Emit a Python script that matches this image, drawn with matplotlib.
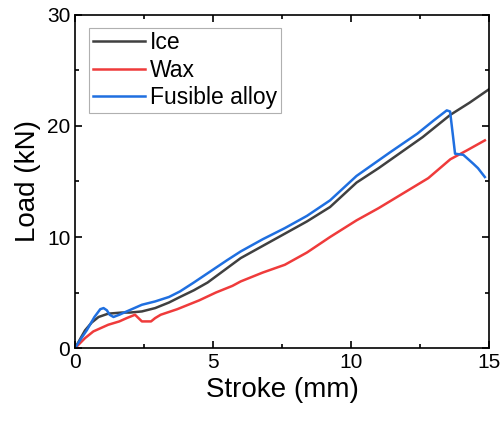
import matplotlib
matplotlib.use("Agg")
import matplotlib.pyplot as plt
from matplotlib.ticker import MultipleLocator

plt.rcParams['font.family'] = ['Liberation Sans', 'DejaVu Sans']

# values (stroke in mm, load in kN)
ice_x = [0, 0.2, 0.36, 0.6, 0.85, 1.2, 1.7, 2.0, 2.42, 2.9, 3.4, 3.8, 4.3,
         4.8, 5.4, 6.0, 6.8, 7.6, 8.4, 9.24, 10.2, 11.0, 11.8, 12.6,
         13.6, 14.3, 15.0]
ice_y = [0, 0.9, 1.6, 2.3, 2.8, 3.1, 3.2, 3.2, 3.3, 3.6, 4.1, 4.6, 5.2,
         5.9, 7.0, 8.1, 9.2, 10.3, 11.4, 12.7, 14.9, 16.2, 17.6, 19.0,
         21.0, 22.1, 23.3]

wax_x = [0, 0.36, 0.66, 1.2, 1.6, 1.87, 2.17, 2.42, 2.75, 2.9, 3.1, 3.7, 4.5,
         5.1, 5.7, 6.0, 6.8, 7.6, 8.4, 9.24, 10.2, 11.0, 12.0, 12.8, 13.6,
         14.2, 14.85]
wax_y = [0, 0.9, 1.5, 2.1, 2.4, 2.7, 3.0, 2.4, 2.4, 2.7, 3.0, 3.5, 4.3,
         5.0, 5.6, 6.0, 6.8, 7.5, 8.6, 10.0, 11.5, 12.6, 14.1, 15.3, 17.0,
         17.8, 18.7]

alloy_x = [0, 0.2, 0.42, 0.7, 0.91, 1.03, 1.15, 1.25, 1.39, 1.6, 1.87, 2.42,
           2.9, 3.4, 3.8, 4.3, 4.9, 5.5, 6.0, 6.8, 7.6, 8.4, 9.24, 10.2,
           11.4, 12.4, 13.0, 13.47, 13.59, 13.7, 13.77, 14.07, 14.43, 14.6,
           14.85]
alloy_y = [0, 0.8, 1.6, 2.8, 3.5, 3.6, 3.4, 3.0, 2.8, 3.0, 3.3, 3.9,
           4.2, 4.6, 5.1, 5.9, 6.9, 7.9, 8.7, 9.8, 10.8, 11.9, 13.3, 15.5,
           17.6, 19.3, 20.5, 21.4, 21.3, 19.0, 17.5, 17.4, 16.6, 16.2,
           15.4]

fig = plt.figure(figsize=(5.01, 4.25), dpi=100)
ax = fig.add_axes([0.150, 0.181, 0.826, 0.784])

ax.plot(ice_x, ice_y, color='#404040', linewidth=1.8, label='Ice')
ax.plot(wax_x, wax_y, color='#ef3b3b', linewidth=1.8, label='Wax')
ax.plot(alloy_x, alloy_y, color='#1f6fe0', linewidth=1.8, label='Fusible alloy')

ax.set_xlim(0, 15)
ax.set_ylim(0, 30)
ax.xaxis.set_major_locator(MultipleLocator(5))
ax.xaxis.set_minor_locator(MultipleLocator(2.5))
ax.yaxis.set_major_locator(MultipleLocator(10))
ax.yaxis.set_minor_locator(MultipleLocator(5))
ax.tick_params(which='both', direction='in', top=True, right=True, width=1.2)
ax.tick_params(which='major', length=5, labelsize=15)
ax.tick_params(which='minor', length=3)
for s in ax.spines.values():
    s.set_linewidth(1.2)

ax.set_xlabel('Stroke (mm)', fontsize=20)
ax.set_ylabel('Load (kN)', fontsize=20)

leg = ax.legend(loc='upper left', bbox_to_anchor=(0.034, 0.961), borderaxespad=0,
                fontsize=16.5, handlelength=2.3, handletextpad=0.2,
                labelspacing=0.2, borderpad=0.15, fancybox=False,
                edgecolor='#b0b0b0', framealpha=1)
leg.get_frame().set_linewidth(0.8)

fig.savefig('out.png', dpi=100)
